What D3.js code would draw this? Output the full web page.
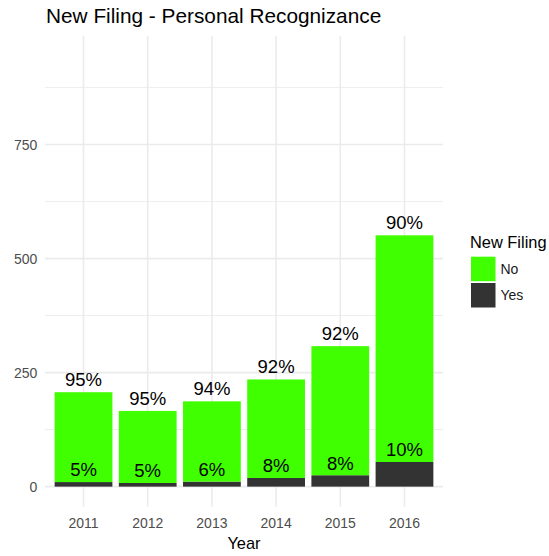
<!DOCTYPE html>
<html>
<head>
<meta charset="utf-8">
<script src="https://cdn.jsdelivr.net/npm/d3@7"></script>
<style>
  body { margin: 0; background: #fff; }
  text { font-family: "Liberation Sans", Arial, sans-serif; }
</style>
</head>
<body>
<script>
// data
var years = ["2011", "2012", "2013", "2014", "2015", "2016"];
var noCounts = [197, 158, 176, 216, 283, 497];
var yesCounts = [10, 8, 11, 19, 25, 54];
var yMajor = [0, 250, 500, 750];
var yMinor = [125, 375, 625, 875];

var W = 549, H = 556;
var panel = {l: 45, r: 443, t: 36, b: 506.7};
var green = "#40FF00", dark = "#333333";

var svg = d3.select("body").append("svg")
    .attr("width", W).attr("height", H);

var x = d3.scaleBand().domain(years)
    .range([panel.l, panel.r])
    .paddingInner(0.1).paddingOuter(0.15);
var y = d3.scaleLinear().domain([-44, 988]).range([panel.b, panel.t]);

// grid
var grid = svg.append("g");
grid.selectAll("line.minor").data(yMinor).enter().append("line")
    .attr("x1", panel.l).attr("x2", panel.r)
    .attr("y1", d => y(d)).attr("y2", d => y(d))
    .attr("stroke", "#EBEBEB").attr("stroke-width", 0.9);
grid.selectAll("line.major").data(yMajor).enter().append("line")
    .attr("x1", panel.l).attr("x2", panel.r)
    .attr("y1", d => y(d)).attr("y2", d => y(d))
    .attr("stroke", "#EBEBEB").attr("stroke-width", 1.6);
grid.selectAll("line.vx").data(years).enter().append("line")
    .attr("x1", d => x(d) + x.bandwidth() / 2).attr("x2", d => x(d) + x.bandwidth() / 2)
    .attr("y1", panel.t).attr("y2", panel.b)
    .attr("stroke", "#EBEBEB").attr("stroke-width", 1.6);

var rows = years.map(function (yr, i) {
    var tot = noCounts[i] + yesCounts[i];
    return {year: yr, no: noCounts[i], yes: yesCounts[i], total: tot,
        pNo: Math.round(noCounts[i] / tot * 100), pYes: Math.round(yesCounts[i] / tot * 100)};
});

// bars: Yes at the bottom, No stacked on top
var bars = svg.append("g");
bars.selectAll("rect.yes").data(rows).enter().append("rect")
    .attr("x", d => x(d.year)).attr("width", x.bandwidth())
    .attr("y", d => y(d.yes)).attr("height", d => y(0) - y(d.yes))
    .attr("fill", dark);
bars.selectAll("rect.no").data(rows).enter().append("rect")
    .attr("x", d => x(d.year)).attr("width", x.bandwidth())
    .attr("y", d => y(d.total)).attr("height", d => y(d.yes) - y(d.total))
    .attr("fill", green);

// percent labels
var labs = svg.append("g").attr("font-size", "18.5px").attr("fill", "#000")
    .attr("text-anchor", "middle");
labs.selectAll("text.no").data(rows).enter().append("text")
    .attr("x", d => x(d.year) + x.bandwidth() / 2)
    .attr("y", d => y(d.total) - 6)
    .text(d => d.pNo + "%");
labs.selectAll("text.yes").data(rows).enter().append("text")
    .attr("x", d => x(d.year) + x.bandwidth() / 2)
    .attr("y", d => y(d.yes) - 5.7)
    .text(d => d.pYes + "%");

// axes
var xAxis = svg.append("g").attr("transform", "translate(0," + (panel.b + 7.3) + ")")
    .call(d3.axisBottom(x).tickSize(0).tickPadding(0));
xAxis.select(".domain").remove();
xAxis.selectAll("text").attr("font-size", "14px").attr("fill", "#4D4D4D")
    .attr("font-family", "Liberation Sans, Arial, sans-serif")
    .attr("dy", "1.0em");

var yAxis = svg.append("g").attr("transform", "translate(" + (panel.l - 7.7) + ",0)")
    .call(d3.axisLeft(y).tickValues(yMajor).tickSize(0).tickPadding(0));
yAxis.select(".domain").remove();
yAxis.selectAll("text").attr("font-size", "14px").attr("fill", "#4D4D4D")
    .attr("font-family", "Liberation Sans, Arial, sans-serif")
    .attr("dy", "0.36em");

svg.append("text")
    .attr("x", (panel.l + panel.r) / 2).attr("y", 549)
    .attr("text-anchor", "middle").attr("font-size", "16.4px")
    .text("Year");

// title
svg.append("text")
    .attr("x", 46).attr("y", 23.3)
    .attr("font-size", "20.8px")
    .text("New Filing - Personal Recognizance");

// legend
var legend = svg.append("g");
legend.append("text").attr("x", 470).attr("y", 248)
    .attr("font-size", "16.4px").text("New Filing");
var keys = [{lab: "No", col: green}, {lab: "Yes", col: dark}];
var lg = legend.selectAll("g.key").data(keys).enter().append("g")
    .attr("transform", (d, i) => "translate(471," + (256.7 + i * 26.3) + ")");
lg.append("rect").attr("width", 24.5).attr("height", 24.5).attr("fill", d => d.col);
lg.append("text").attr("x", 29.5).attr("y", 17.3)
    .attr("font-size", "14px").attr("fill", "#1a1a1a")
    .text(d => d.lab);
</script>
</body>
</html>
